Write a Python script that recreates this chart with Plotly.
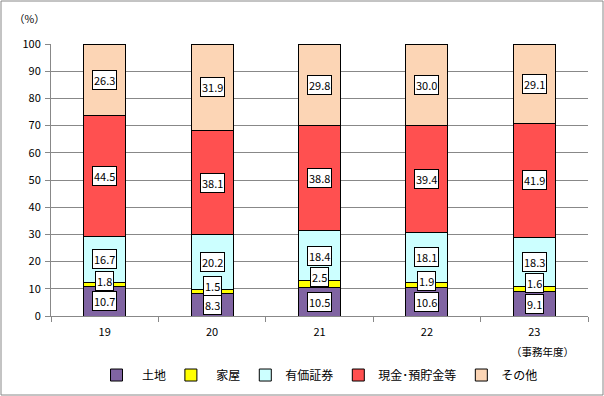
import plotly.graph_objects as go

years = ["19", "20", "21", "22", "23"]
land = [10.7, 8.3, 10.5, 10.6, 9.1]
house = [1.8, 1.5, 2.5, 1.9, 1.6]
securities = [16.7, 20.2, 18.4, 18.1, 18.3]
cash = [44.5, 38.1, 38.8, 39.4, 41.9]
other = [26.3, 31.9, 29.8, 30.0, 29.1]

series = [
    ("土地", land, "#8064A2"),
    ("家屋", house, "#FFFF00"),
    ("有価証券", securities, "#CCFFFF"),
    ("現金･預貯金等", cash, "#FF5050"),
    ("その他", other, "#FCD5B5"),
]
legend_names = ["  土地", "  家屋", "有価証券", "現金･預貯金等", "その他"]

# pixel nudges for the small 家屋 labels (to avoid overlapping 土地 labels)
house_label_nudge = [3, 5, 7, 4, 6]

FONT = "Noto Sans CJK JP"
fig = go.Figure()
for (name, vals, col), lname in zip(series, legend_names):
    fig.add_trace(go.Bar(
        x=years, y=vals, name=lname,
        marker=dict(color=col, line=dict(color="black", width=1)),
        width=0.39,
    ))

annotations = []
base = [0.0] * len(years)
for si, (name, vals, col) in enumerate(series):
    for i, v in enumerate(vals):
        mid = base[i] + v / 2
        annotations.append(dict(
            x=i, y=mid, xref="x", yref="y", text=f"{v:.1f}",
            showarrow=False, bgcolor="white", bordercolor="black", borderwidth=1,
            borderpad=1, yshift=house_label_nudge[i] if si == 1 else 0,
            font=dict(family=FONT, size=11, color="black"),
        ))
        base[i] += v

annotations.append(dict(x=-0.04, y=1.095, xref="paper", yref="paper", text="（%）",
                        showarrow=False, xanchor="center", yanchor="middle",
                        font=dict(family=FONT, size=10.5, color="black")))
annotations.append(dict(x=0.915, y=-0.13, xref="paper", yref="paper", text="（事務年度）",
                        showarrow=False, xanchor="center", yanchor="middle",
                        font=dict(family=FONT, size=10.5, color="black")))

W, H = 604, 396
L, R, T, B = 51, 16, 44, 80
pw, ph = W - L - R, H - T - B
shapes = [dict(type="rect", xref="paper", yref="paper",
               x0=(1 - L) / pw, x1=(W - 1 - L) / pw,
               y0=(H - B - (H - 1)) / ph, y1=(H - B - 1) / ph,
               line=dict(color="#888888", width=1))]

fig.update_layout(
    width=W, height=H, barmode="stack", bargap=0.61,
    margin=dict(l=L, r=R, t=T, b=B, autoexpand=False),
    plot_bgcolor="white", paper_bgcolor="white",
    font=dict(family=FONT, size=11, color="black"),
    xaxis=dict(type="category", showline=True, linecolor="#888888", ticks="outside",
               tickson="boundaries", ticklen=5, tickcolor="#888888", showgrid=False,
               ticklabelstandoff=6,
               tickfont=dict(family=FONT, size=11, color="black")),
    yaxis=dict(range=[0, 100], dtick=10, showline=True, linecolor="#888888",
               gridcolor="#888888", gridwidth=1, ticks="outside", ticklen=5, tickcolor="#888888",
               ticklabelstandoff=2,
               tickfont=dict(family=FONT, size=11, color="black"), zeroline=False),
    legend=dict(orientation="h", x=0.5, xanchor="center", y=-0.217, yanchor="middle",
                font=dict(family=FONT, size=12, color="black"),
                traceorder="normal", itemwidth=30),
    annotations=annotations, shapes=shapes, showlegend=True,
)
fig.write_html("out.html", config={"displayModeBar": False},
               post_script="document.body.style.margin='0';")
